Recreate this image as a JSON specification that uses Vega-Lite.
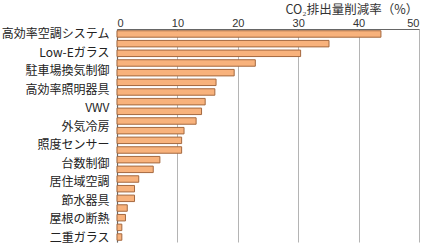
{
  "$schema": "https://vega.github.io/schema/vega-lite/v6.json",
  "width": 302,
  "height": 213,
  "autosize": {"type": "none"},
  "padding": {"left": 117, "top": 29, "right": 7, "bottom": 6},
  "background": "white",
  "config": {
    "view": {"stroke": null},
    "font": "Noto Sans CJK JP"
  },
  "datasets": {
    "bars": [
      {"rank": 1, "value": 43.7},
      {"rank": 2, "value": 35.1},
      {"rank": 3, "value": 30.4},
      {"rank": 4, "value": 22.9},
      {"rank": 5, "value": 19.4},
      {"rank": 6, "value": 16.4},
      {"rank": 7, "value": 16.2},
      {"rank": 8, "value": 14.6},
      {"rank": 9, "value": 14.0},
      {"rank": 10, "value": 13.1},
      {"rank": 11, "value": 11.1},
      {"rank": 12, "value": 10.7},
      {"rank": 13, "value": 10.7},
      {"rank": 14, "value": 7.1},
      {"rank": 15, "value": 6.0},
      {"rank": 16, "value": 3.6},
      {"rank": 17, "value": 2.9},
      {"rank": 18, "value": 2.9},
      {"rank": 19, "value": 1.7},
      {"rank": 20, "value": 1.4},
      {"rank": 21, "value": 0.8},
      {"rank": 22, "value": 0.8}
    ],
    "labels": [
      {"label": "高効率空調システム"},
      {"label": "Low-Eガラス"},
      {"label": "駐車場換気制御"},
      {"label": "高効率照明器具"},
      {"label": "VWV"},
      {"label": "外気冷房"},
      {"label": "照度センサー"},
      {"label": "台数制御"},
      {"label": "居住域空調"},
      {"label": "節水器具"},
      {"label": "屋根の断熱"},
      {"label": "二重ガラス"}
    ]
  },
  "layer": [
    {
      "data": {"name": "bars"},
      "mark": {"type": "bar", "fill": "#f8b27c", "stroke": "#a4683f", "strokeWidth": 1},
      "encoding": {
        "y": {
          "field": "rank",
          "type": "ordinal",
          "sort": null,
          "axis": null,
          "scale": {"paddingInner": 0.33, "paddingOuter": 0.18}
        },
        "x": {
          "field": "value",
          "type": "quantitative",
          "scale": {"domain": [0, 50], "nice": false},
          "axis": {
            "orient": "top",
            "values": [0, 10, 20, 30, 40, 50],
            "ticks": false,
            "grid": true,
            "gridColor": "#b4b4b4",
            "gridWidth": 1,
            "domainColor": "#666666",
            "domainWidth": 1.2,
            "labelFont": "Liberation Sans",
            "labelFontSize": 11,
            "labelColor": "#333333",
            "labelPadding": 1,
            "title": "CO₂排出量削減率（%）",
            "titleFont": "Noto Sans CJK JP",
            "titleFontSize": 12.5,
            "titleFontWeight": "normal",
            "titleColor": "#333333",
            "titleAlign": "left",
            "titleBaseline": "middle",
            "titleX": 168,
            "titleY": -20
          }
        }
      }
    },
    {
      "data": {"name": "labels"},
      "mark": {"type": "point", "opacity": 0},
      "encoding": {
        "y": {
          "field": "label",
          "type": "nominal",
          "sort": null,
          "scale": {"type": "point", "padding": 0.26},
          "axis": {
            "title": null,
            "ticks": false,
            "domainColor": "#666666",
            "domainWidth": 1.2,
            "labelFont": "Noto Sans CJK JP",
            "labelFontSize": 12,
            "labelColor": "#222222",
            "labelPadding": 8,
            "labelLimit": 200
          }
        }
      }
    }
  ],
  "resolve": {"scale": {"y": "independent"}}
}
